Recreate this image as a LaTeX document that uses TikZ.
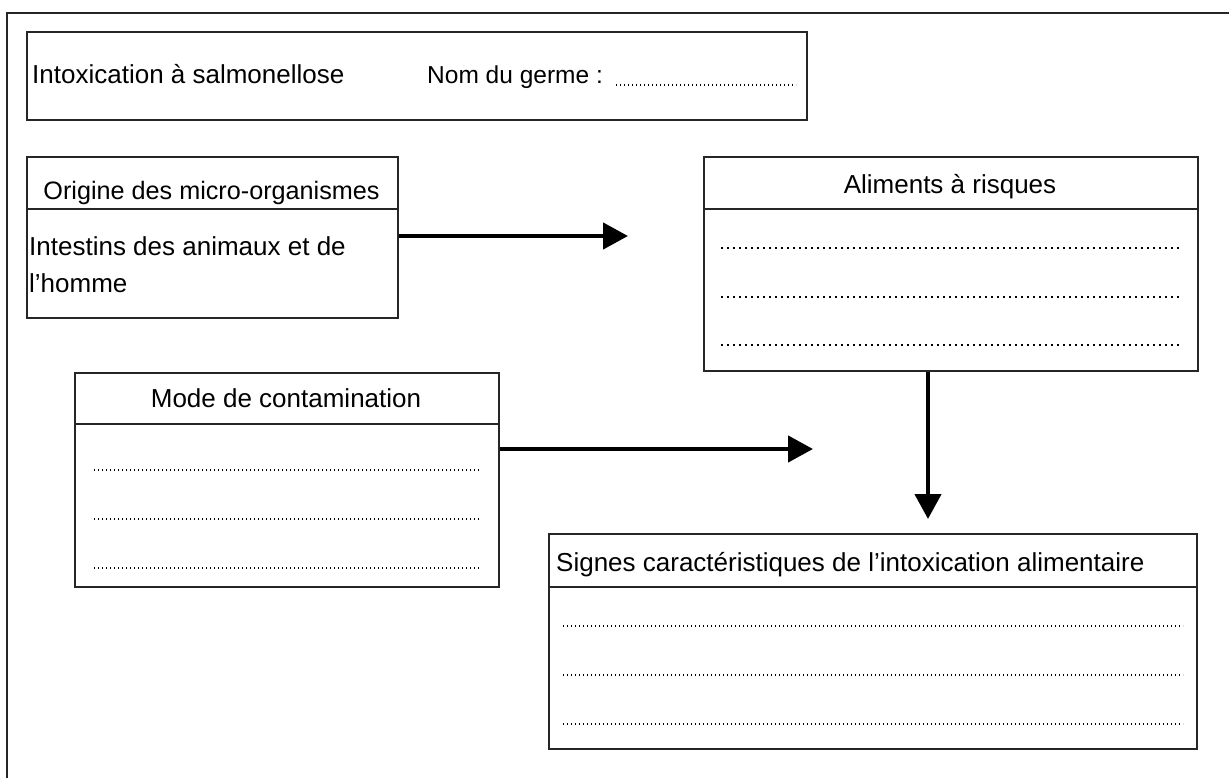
\documentclass[tikz,border=0pt]{standalone}
\usepackage{fontspec}
\setmainfont{Liberation Sans}
\usetikzlibrary{arrows.meta}
\tikzset{
  box/.style={draw=black!85, line width=1.8pt, rectangle, inner sep=0pt, anchor=north west},
  rule/.style={draw=black!85, line width=1.8pt},
  txt/.style={inner sep=0pt, font=\fontsize{26}{37}\selectfont, text=black},
  txtsm/.style={inner sep=0pt, font=\fontsize{24.5}{37}\selectfont, text=black},
  txtmd/.style={inner sep=0pt, font=\fontsize{25.2}{37}\selectfont, text=black},
  dotsA/.style={draw=black, line width=1.6pt, dash pattern=on 1.6pt off 4.4pt},
  dotsB/.style={draw=black, line width=1.5pt, dash pattern=on 1.4pt off 2.6pt},
  flow/.style={draw=black, line width=4.5pt, -{Triangle[length=25pt,width=26pt]}},
  frame/.style={draw=black!85, line width=1.6pt}
}
\begin{document}
\begin{tikzpicture}[x=1pt,y=-1pt]
\useasboundingbox (0,0) rectangle (1229,778);
% outer frame (only top and left visible)
\draw[frame] (7,778) -- (7,13) -- (1229,13);

% title box
\node[box, minimum width=780pt, minimum height=88pt] (titre) at (26,31) {};
\node[txt, anchor=base west] (tIntox) at (32,84) {Intoxication à salmonellose};
\node[txtsm, anchor=base west] (tNom) at (427,84) {Nom du germe :};
\draw[dotsB] (616,85) -- (796,85);

% Origine box
\node[box, minimum width=371pt, minimum height=161pt] (origine) at (26,156) {};
\draw[rule] (origine.west |- 0,209) -- (origine.east |- 0,209);
\node[txtmd, anchor=base] (hOrig) at (211.5,200) {Origine des micro-organismes};
\node[txt, anchor=base west] (bOrig1) at (29,255) {Intestins des animaux et de};
\node[txt, anchor=base west] (bOrig2) at (29,292) {l’homme};

% Aliments box
\node[box, minimum width=494pt, minimum height=214pt] (aliments) at (703,156) {};
\draw[rule] (aliments.west |- 0,209) -- (aliments.east |- 0,209);
\node[txt, anchor=base] (hAlim) at (950,194) {Aliments à risques};
\draw[dotsA] (721,248) -- (1182,248);
\draw[dotsA] (721,297) -- (1182,297);
\draw[dotsA] (721,345) -- (1182,345);

% Mode box
\node[box, minimum width=424pt, minimum height=214pt] (mode) at (74,372) {};
\draw[rule] (mode.west |- 0,424) -- (mode.east |- 0,424);
\node[txt, anchor=base] (hMode) at (286,407) {Mode de contamination};
\draw[dotsB] (94,470) -- (480,470);
\draw[dotsB] (94,519) -- (480,519);
\draw[dotsB] (94,568) -- (480,568);

% Signes box
\node[box, minimum width=648pt, minimum height=215pt] (signes) at (548,533) {};
\draw[rule] (signes.west |- 0,587) -- (signes.east |- 0,587);
\node[txt, anchor=base west] (hSign) at (556,571) {Signes caractéristiques de l’intoxication alimentaire};
\draw[dotsB] (563,626) -- (1183,626);
\draw[dotsB] (563,675) -- (1183,675);
\draw[dotsB] (563,724) -- (1183,724);

% arrows
\coordinate (tip1) at (628,236);
\coordinate (tip2) at (813,449);
\coordinate (tip3) at (928,519);
\draw[flow] (origine.east |- tip1) -- (tip1);
\draw[flow] (mode.east |- tip2) -- (tip2);
\draw[flow] (aliments.south -| tip3) -- (tip3);
\end{tikzpicture}
\end{document}
